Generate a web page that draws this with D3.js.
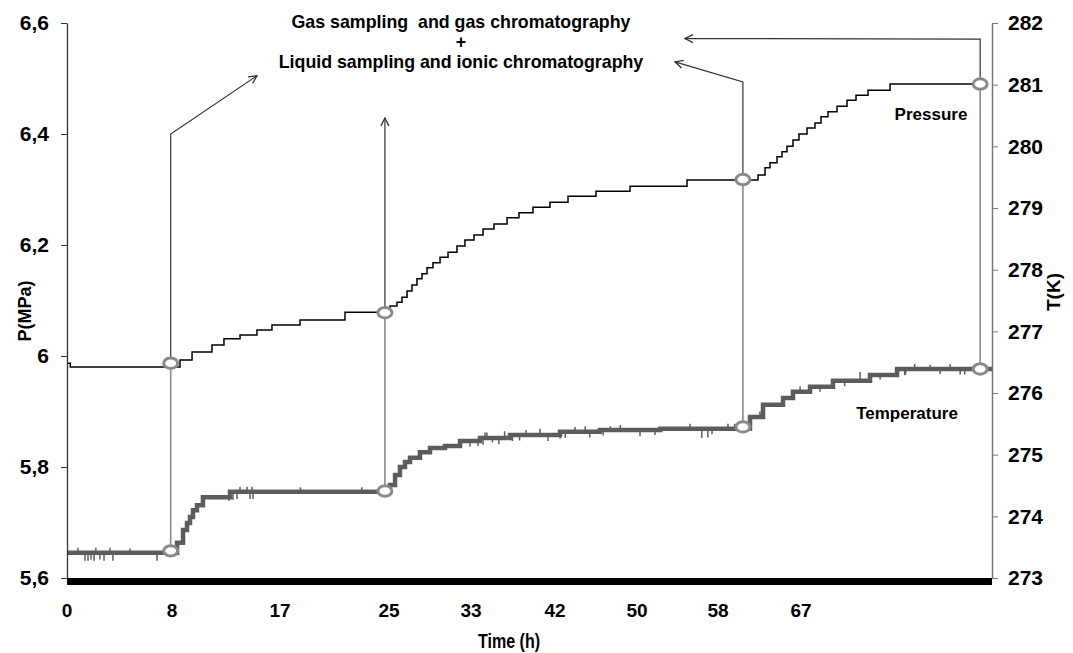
<!DOCTYPE html>
<html>
<head>
	<title>Pressure and temperature during sampling</title>
	<script src="https://cdn.jsdelivr.net/npm/d3@7"></script>
	<style>
	body{ margin:0; background:#fff; }
	svg text{ font-family:"Liberation Sans", Arial, sans-serif; font-weight:bold; fill:#000; }
	</style>
</head>
<body>
<script>
// axis labels
var timeTicks = [0, 8, 17, 25, 33, 42, 50, 58, 67];
var pressureTicks = [5.6, 5.8, 6, 6.2, 6.4, 6.6];
var tempTicks = [273, 274, 275, 276, 277, 278, 279, 280, 281, 282];

// pressure (MPa), step changes
var pressureTime  = [0, 0.25, 8.67, 9.67, 11.33, 12.33, 13.67, 15.08, 16.33, 18.47, 21.77,
	25.1, 25.78, 26.27, 26.76, 27.24, 27.73, 28.22, 28.71, 29.29, 29.98, 30.76, 31.63, 32.41,
	33.32, 34.29, 35.46, 36.86, 38.14, 39.64, 41.46, 43.27, 46.0, 49.32, 54.94,
	62.34, 63.10, 63.64, 64.40, 64.94, 65.48, 66.13, 66.78, 67.66, 68.54, 69.20, 69.97,
	70.96, 72.06, 73.05, 74.37, 76.79, 87];
var pressureValue = [5.987, 5.980, 5.993, 6.007, 6.020, 6.031, 6.038, 6.047, 6.056, 6.065, 6.079,
	6.090, 6.097, 6.106, 6.117, 6.128, 6.139, 6.148, 6.159, 6.168, 6.178, 6.187, 6.198, 6.209,
	6.218, 6.229, 6.238, 6.249, 6.258, 6.268, 6.277, 6.288, 6.297, 6.306, 6.317,
	6.326, 6.339, 6.348, 6.359, 6.368, 6.378, 6.389, 6.400, 6.411, 6.420, 6.431, 6.440,
	6.450, 6.461, 6.470, 6.479, 6.490, 6.490];

// temperature (K)
var tempTime  = [0, 8.42, 8.92, 9.25, 9.5, 9.75, 10.08, 10.58, 12.83,
	25.1, 25.59, 26.07, 26.56, 27.05, 28.02, 29.0, 30.46, 31.93, 33.96, 37.18, 42.49, 46.39, 52.3,
	61.47, 62.88, 65.05, 66.13, 67.99, 70.52, 74.59, 77.56, 88];
var tempValue = [273.41, 273.57, 273.78, 273.89, 273.99, 274.10, 274.18, 274.31, 274.40,
	274.51, 274.67, 274.80, 274.88, 274.95, 275.04, 275.11, 275.14, 275.22, 275.27, 275.32, 275.37, 275.40, 275.42,
	275.61, 275.81, 275.92, 276.02, 276.10, 276.20, 276.29, 276.39, 276.39];

// isolated readings jumping off the temperature line
var spikeTime  = [0.84, 1.37, 1.6, 1.83, 2.06, 2.2, 2.51, 2.82, 3.28, 3.5, 4.8, 6.86,
	12.75, 13.08, 13.42, 13.67, 14.25, 14.5, 14.67, 14.75, 18.5, 23.0,
	32.9, 33.75, 34.29, 34.5, 34.7, 35.3, 35.98, 36.6, 37.44, 38.2, 38.9, 40.4, 41.25, 42.5, 43.0,
	43.95, 44.95, 45.4, 46.7, 47.4, 48.37, 50.3, 51.78, 55.24, 56.4, 57.0, 57.41, 59.08, 59.8,
	62.55, 64.2, 66.9, 69.1, 71.8, 73.5, 75.7, 78.4, 78.5, 79.5, 81.2, 82.3, 83.4, 84.5, 85.0, 86.1, 87.2];
var spikeValue = [273.49, 273.28, 273.28, 273.30, 273.28, 273.49, 273.30, 273.28, 273.49, 273.28, 273.48, 273.28,
	274.25, 274.27, 274.28, 274.48, 274.48, 274.28, 274.48, 274.28, 274.47, 274.47,
	275.13, 275.14, 275.16, 275.36, 275.36, 275.20, 275.17, 275.38, 275.22, 275.23, 275.40, 275.42, 275.22, 275.26, 275.27,
	275.45, 275.46, 275.28, 275.31, 275.46, 275.48, 275.30, 275.32, 275.50, 275.27, 275.28, 275.33, 275.50, 275.50,
	275.70, 275.82, 276.11, 276.02, 276.11, 276.34, 276.22, 276.29, 276.30, 276.47, 276.46, 276.31, 276.47, 276.30, 276.30, 276.47, 276.46];

// sampling events
var sampleTime = [7.9, 24.7, 60.7, 86.7];
var sampleP = [5.987, 6.078, 6.318, 6.490];
var sampleT = [273.44, 274.41, 275.45, 276.39];
// arrows: vertical up to arrowTopP, then (optionally) to the end point
var arrowTopP = [6.40, 6.429, 6.494, 6.571];
var arrowEndTime = [15.08, null, 53.75, 54.74];
var arrowEndP = [6.505, null, 6.530, 6.572];

var width = 1073,
    height = 653;

// plot frame ("top" is taken by window.top)
var plotLeft = 67, plotRight = 992, plotTop = 23, plotBottom = 578;

// the time axis is not linear in the original, each label sits at its own place
var xScale = d3.scaleLinear()
	.domain([0, 8, 17, 25, 33, 42, 50, 58, 67, 88])
	.range([plotLeft, 172, 280, 389, 471, 555, 637, 718, 801, plotRight]);
var yP = d3.scaleLinear().domain([5.6, 6.6]).range([plotBottom, plotTop]);
var yT = d3.scaleLinear().domain([273, 282]).range([plotBottom, plotTop]);

function commaFormat(d){
	return String(+d.toFixed(1)).replace('.', ',');
}

function makeSvg(){
	var svg = d3.select("body").append("svg")
		.attr("width", width)
		.attr("height", height);

	var defs = svg.append("defs");
	defs.append("marker")
		.attr("id", "arrow")
		.attr("viewBox", "0 0 10 10")
		.attr("refX", 9)
		.attr("refY", 5)
		.attr("markerWidth", 10)
		.attr("markerHeight", 10)
		.attr("markerUnits", "userSpaceOnUse")
		.attr("orient", "auto")
		.append("path")
		.attr("d", "M1,1 L9,5 L1,9")
		.attr("fill", "none")
		.attr("stroke", "#333")
		.attr("stroke-width", 1.3);
	return svg;
}

function makeAxes(svg){
	var gl = svg.append("g")
		.attr("transform", "translate(" + plotLeft + ",0)")
		.call(d3.axisLeft(yP).tickValues(pressureTicks).tickSize(6).tickSizeOuter(0)
			.tickPadding(12).tickFormat(commaFormat));
	gl.select(".domain").attr("stroke", "#333").attr("stroke-width", 1.3);
	gl.selectAll(".tick line").attr("stroke", "#333");
	gl.selectAll("text").attr("font-size", "21px").attr("font-family", null);

	var gr = svg.append("g")
		.attr("transform", "translate(" + plotRight + ",0)")
		.call(d3.axisRight(yT).tickValues(tempTicks).tickSize(6).tickSizeOuter(0).tickPadding(10));
	gr.select(".domain").attr("stroke", "#777").attr("stroke-width", 1.5);
	gr.selectAll(".tick line").attr("stroke", "#777");
	gr.selectAll("text").attr("font-size", "21px").attr("font-family", null);

	// thick bottom axis bar
	svg.append("line")
		.attr("x1", xScale(0)).attr("x2", xScale(88))
		.attr("y1", yP(5.6) + 3.5).attr("y2", yP(5.6) + 3.5)
		.attr("stroke", "#000")
		.attr("stroke-width", 7);

	svg.selectAll("text.xtick")
		.data(timeTicks).enter().append("text")
		.attr("class", "xtick")
		.attr("x", function(d){ return xScale(d); })
		.attr("y", plotBottom + 39)
		.attr("text-anchor", "middle")
		.attr("font-size", "19px")
		.text(function(d){ return d; });

	// condensed like the original
	svg.append("text")
		.attr("x", 478).attr("y", 648)
		.attr("font-size", "20px")
		.attr("textLength", 62)
		.attr("lengthAdjust", "spacingAndGlyphs")
		.text("Time (h)");

	svg.append("text")
		.attr("transform", "translate(31,311) rotate(-90)")
		.attr("text-anchor", "middle")
		.attr("font-size", "18px")
		.text("P(MPa)");

	svg.append("text")
		.attr("transform", "translate(1060,292) rotate(-90)")
		.attr("text-anchor", "middle")
		.attr("font-size", "19px")
		.text("T(K)");
}

function makeArrows(svg){
	sampleTime.forEach(function(t, i){
		var x = xScale(t);
		// grey link between both markers
		svg.append("line")
			.attr("x1", x).attr("x2", x)
			.attr("y1", yT(sampleT[i])).attr("y2", yP(sampleP[i]))
			.attr("stroke", "#8a8a8a")
			.attr("stroke-width", 1.6);

		var pts = [[x, yP(sampleP[i])], [x, yP(arrowTopP[i])]];
		if(arrowEndTime[i] != null)
			pts.push([xScale(arrowEndTime[i]), yP(arrowEndP[i])]);

		svg.append("path")
			.attr("d", d3.line()(pts))
			.attr("fill", "none")
			.attr("stroke", "#333")
			.attr("stroke-width", 1.2)
			.attr("marker-end", "url(#arrow)");
	});
}

function makeSeries(svg){
	var tempData = tempTime.map(function(t, i){ return [t, tempValue[i]]; });
	var pressData = pressureTime.map(function(t, i){ return [t, pressureValue[i]]; });

	var tLine = d3.line()
		.x(function(d){ return xScale(d[0]); })
		.y(function(d){ return yT(d[1]); })
		.curve(d3.curveStepAfter);

	svg.append("path")
		.attr("d", tLine(tempData))
		.attr("fill", "none")
		.attr("stroke", "#5c5c5c")
		.attr("stroke-width", 4.5);

	// spikes start from the step value at that time
	svg.selectAll("line.spike")
		.data(spikeTime).enter().append("line")
		.attr("class", "spike")
		.attr("x1", function(d){ return xScale(d); })
		.attr("x2", function(d){ return xScale(d); })
		.attr("y1", function(d){
			var k = d3.bisectRight(tempTime, d) - 1;
			return yT(tempValue[k]);
		})
		.attr("y2", function(d, i){ return yT(spikeValue[i]); })
		.attr("stroke", "#5c5c5c")
		.attr("stroke-width", 1.5);

	var pLine = d3.line()
		.x(function(d){ return xScale(d[0]); })
		.y(function(d){ return yP(d[1]); })
		.curve(d3.curveStepAfter);

	svg.append("path")
		.attr("d", pLine(pressData))
		.attr("fill", "none")
		.attr("stroke", "#000")
		.attr("stroke-width", 1.5);
}

function makeMarkers(svg){
	var pts = [];
	sampleTime.forEach(function(t, i){
		pts.push({x: xScale(t), y: yP(sampleP[i])});
		pts.push({x: xScale(t), y: yT(sampleT[i])});
	});
	svg.selectAll("ellipse.sample")
		.data(pts).enter().append("ellipse")
		.attr("class", "sample")
		.attr("cx", function(d){ return d.x; })
		.attr("cy", function(d){ return d.y; })
		.attr("rx", 7)
		.attr("ry", 5.2)
		.attr("fill", "#fff")
		.attr("stroke", "#8a8a8a")
		.attr("stroke-width", 3);
}

function makeLabels(svg){
	var lines = ["Gas sampling  and gas chromatography", "+", "Liquid sampling and ionic chromatography"];
	var ys = [28, 48, 68];
	svg.selectAll("text.note")
		.data(lines).enter().append("text")
		.attr("class", "note")
		.attr("x", 461)
		.attr("y", function(d, i){ return ys[i]; })
		.attr("text-anchor", "middle")
		.attr("font-size", "17.8px")
		.style("white-space", "pre")
		.text(function(d){ return d; });

	svg.append("text")
		.attr("x", 931).attr("y", 120)
		.attr("text-anchor", "middle")
		.attr("font-size", "17px")
		.text("Pressure");

	svg.append("text")
		.attr("x", 907).attr("y", 419)
		.attr("text-anchor", "middle")
		.attr("font-size", "17px")
		.text("Temperature");
}

var svg = makeSvg();
makeArrows(svg);
makeSeries(svg);
makeMarkers(svg);
makeAxes(svg);
makeLabels(svg);
</script>
</body>
</html>
